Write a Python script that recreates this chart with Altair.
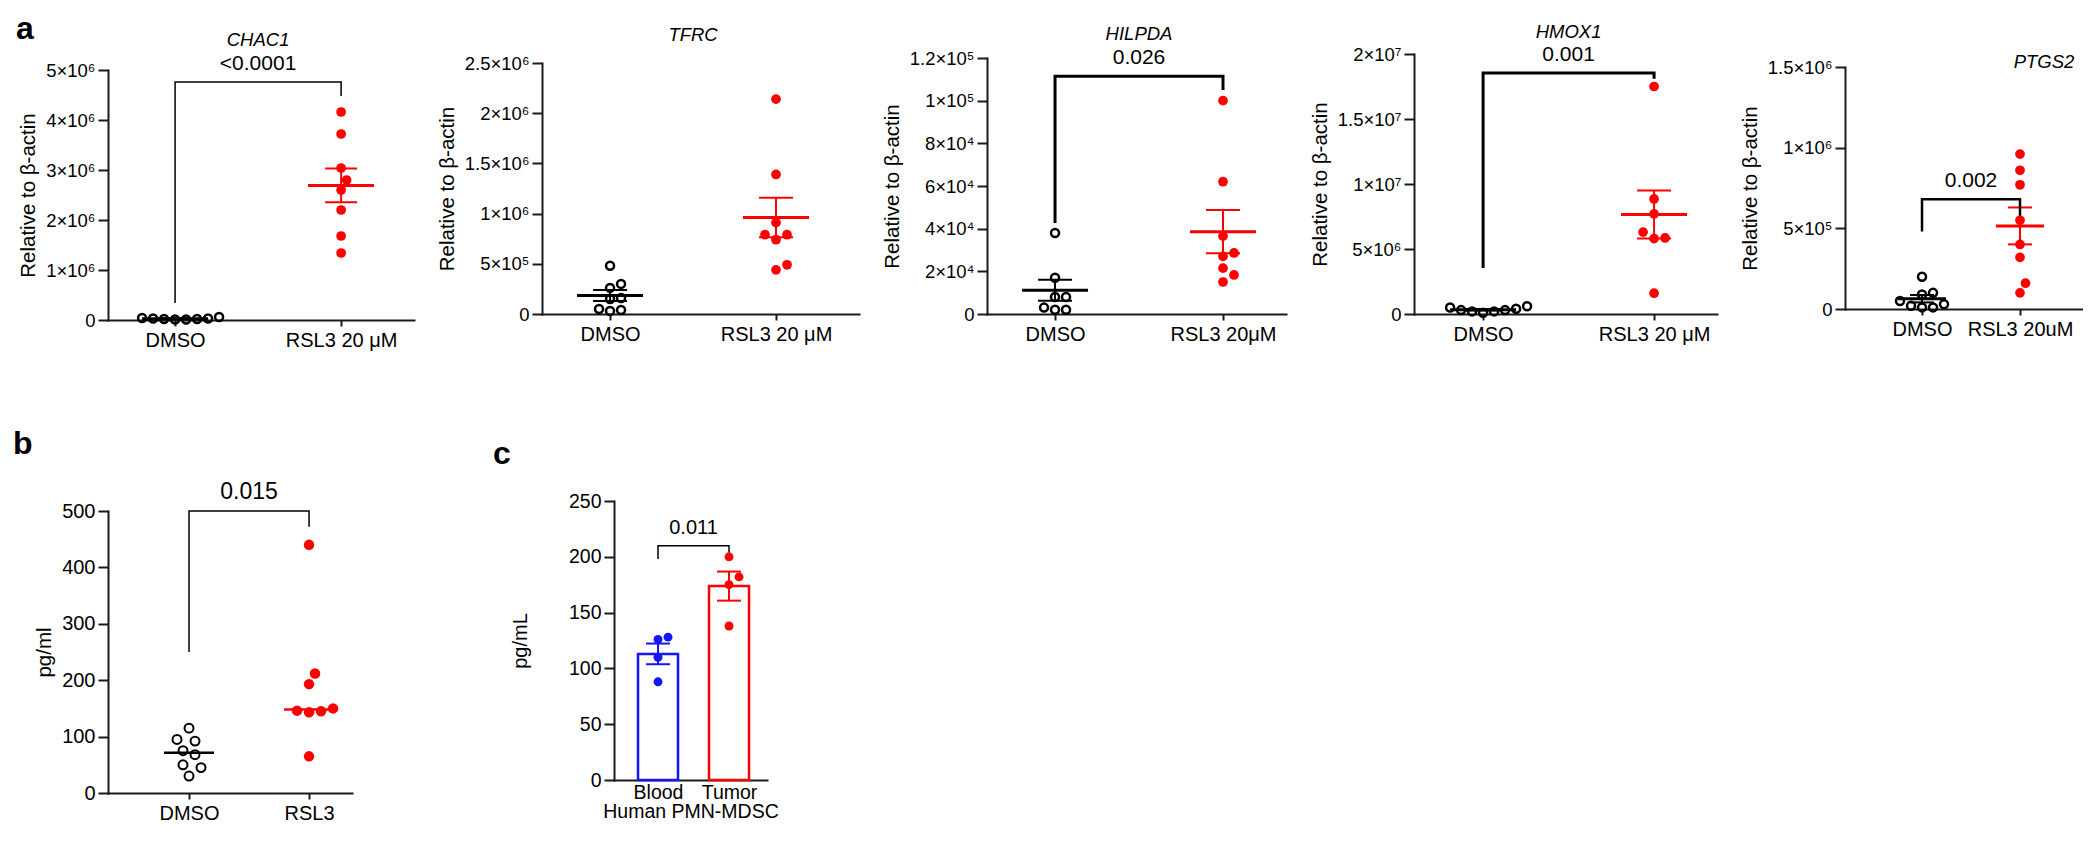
import altair as alt
import pandas as pd

FONT = "Liberation Sans"
RED = "#ff0000"
BLUE = "#1414ff"
BLACK = "#000000"
AXIS = "#1a1a1a"

# ---------------- data ----------------
genes = ["CHAC1", "TFRC", "HILPDA", "HMOX1", "PTGS2"]
ctrl_label = "DMSO"
treat_labels = ["RSL3 20 μM", "RSL3 20 μM", "RSL3 20μM", "RSL3 20 μM", "RSL3 20uM"]
p_values = ["<0.0001", None, "0.026", "0.001", "0.002"]

chac1_dmso = [6e4, 4e4, 3e4, 3e4, 2e4, 2e4, 1e4, 1e4]
chac1_rsl3 = [4.16e6, 3.72e6, 3.04e6, 2.80e6, 2.60e6, 2.20e6, 1.68e6, 1.34e6]
tfrc_dmso = [4.8e5, 3.0e5, 2.6e5, 1.6e5, 1.5e5, 0.5e5, 0.4e5, 0.3e5]
tfrc_rsl3 = [2.14e6, 1.39e6, 0.91e6, 0.79e6, 0.79e6, 0.74e6, 0.49e6, 0.44e6]
hilpda_dmso = [3.8e4, 1.7e4, 0.8e4, 0.8e4, 0.3e4, 0.2e4, 0.2e4]
hilpda_rsl3 = [1.0e5, 6.2e4, 3.65e4, 2.86e4, 2.7e4, 2.15e4, 1.83e4, 1.5e4]
hmox1_dmso = [6e5, 5e5, 4e5, 3e5, 3e5, 2e5, 2e5, 1e5]
hmox1_rsl3 = [1.75e7, 8.85e6, 7.7e6, 6.3e6, 5.85e6, 5.8e6, 1.6e6]
ptgs2_dmso = [2.0e5, 1.0e5, 0.9e5, 0.5e5, 0.3e5, 0.2e5, 0.1e5, 0.1e5]
ptgs2_rsl3 = [9.6e5, 8.6e5, 7.7e5, 5.5e5, 4.0e5, 3.2e5, 1.6e5, 1.0e5]

a_ctrl = [chac1_dmso, tfrc_dmso, hilpda_dmso, hmox1_dmso, ptgs2_dmso]
a_treat = [chac1_rsl3, tfrc_rsl3, hilpda_rsl3, hmox1_rsl3, ptgs2_rsl3]

a_ymax = [5e6, 2.5e6, 1.2e5, 2e7, 1.5e6]
a_ticks = [
    [0, 1e6, 2e6, 3e6, 4e6, 5e6],
    [0, 5e5, 1e6, 1.5e6, 2e6, 2.5e6],
    [0, 2e4, 4e4, 6e4, 8e4, 1e5, 1.2e5],
    [0, 5e6, 1e7, 1.5e7, 2e7],
    [0, 5e5, 1e6, 1.5e6],
]
a_tick_labels = [
    ["0", "1×10⁶", "2×10⁶", "3×10⁶", "4×10⁶", "5×10⁶"],
    ["0", "5×10⁵", "1×10⁶", "1.5×10⁶", "2×10⁶", "2.5×10⁶"],
    ["0", "2×10⁴", "4×10⁴", "6×10⁴", "8×10⁴", "1×10⁵", "1.2×10⁵"],
    ["0", "5×10⁶", "1×10⁷", "1.5×10⁷", "2×10⁷"],
    ["0", "5×10⁵", "1×10⁶", "1.5×10⁶"],
]
# significance brackets: [left leg end, bar height, right leg end]
a_brackets = [
    [3.4e5, 4.76e6, 4.48e6],
    None,
    [4.26e4, 1.115e5, 1.05e5],
    [3.54e6, 1.854e7, 1.81e7],
    [4.8e5, 6.8e5, 5.8e5],
]
a_ytitle = "Relative to β-actin"

# panel b
b_labels = ["DMSO", "RSL3"]
b_dmso = [115, 95, 92, 75, 68, 50, 45, 30]
b_rsl3 = [440, 212, 193, 150, 146, 145, 143, 65]
b_ticks = [0, 100, 200, 300, 400, 500]
b_tick_labels = ["0", "100", "200", "300", "400", "500"]
b_bracket = [250, 500, 472]
b_p = "0.015"

# panel c
c_labels = ["Blood", "Tumor"]
c_blood = [128, 126, 110, 88]
c_tumor = [200, 182, 175, 138]
c_ticks = [0, 50, 100, 150, 200, 250]
c_tick_labels = ["0", "50", "100", "150", "200", "250"]
c_bracket = [198, 210, 204]
c_p = "0.011"


# ---------------- helpers ----------------
def swarm(vals, ppu, d):
    idx = sorted(range(len(vals)), key=lambda i: vals[i])
    placed = []
    offs = [0.0] * len(vals)
    step = d / 2.0
    cands = [0.0]
    for m in range(1, 40):
        cands += [m * step, -m * step]
    for i in idx:
        y = vals[i] * ppu
        for c in cands:
            if all((c - px) ** 2 + (y - py) ** 2 >= d * d * 0.98 for px, py in placed):
                offs[i] = c
                placed.append((c, y))
                break
    return offs


def label_expr(vals, labs):
    s = ""
    for v, l in zip(vals, labs):
        s += f"datum.value == {float(v)!r} ? '{l}' : "
    return s + "''"


def make_panel(groups, xlabels, colors, filled, ymax, ticks, tick_labels, ytitle,
               H, top, W, xdom, kind="mean", mean_hw=33, cap_hw=16, mean_w=3, sem_w=2,
               d=11, open_size=64, fill_size=95, open_w=2.5, bracket=None, pval=None,
               p_fs=20, br_w=2, title=None, title_y=-20, title_dx=0, letter=None,
               letter_xy=(0, 0), tick_fs=18.5, ytitle_fs=19.5, xlabel_fs=19,
               xtitle=None, ytitle_pad=7, bar_hw=20, xlabel_pad=4, xtick=6):
    ppu_y = (H - top) / ymax
    ppu_x = W / (xdom[1] - xdom[0])
    rows = []
    for g, vals in enumerate(groups, start=1):
        offs = swarm(vals, ppu_y, d)
        for v, o in zip(vals, offs):
            rows.append({"g": g, "v": v, "xp": g + o / ppu_x})
    df = pd.DataFrame(rows)
    xs = alt.Scale(domain=list(xdom), nice=False, zero=False)
    ys = alt.Scale(domain=[0, ymax], range=[H, top], nice=False, zero=False)

    xaxis = alt.Axis(values=[1, 2],
                     labelExpr=f"datum.value == 1 ? '{xlabels[0]}' : datum.value == 2 ? '{xlabels[1]}' : ''",
                     title=xtitle, tickSize=xtick, ticks=xtick > 0, labelPadding=xlabel_pad,
                     labelFontSize=xlabel_fs, labelFlush=False, labelOverlap=False,
                     titleFontSize=xlabel_fs, titlePadding=1)
    yaxis = alt.Axis(values=ticks, labelExpr=label_expr(ticks, tick_labels), title=ytitle,
                     tickSize=10, labelPadding=3, titlePadding=ytitle_pad,
                     labelFontSize=tick_fs, titleFontSize=ytitle_fs, labelOverlap=False,
                     labelFlush=False)

    # every layer carries the same axis definition so the shared axes merge cleanly
    def X(f):
        return alt.X(f"{f}:Q", scale=xs, axis=xaxis)

    def Y(f):
        return alt.Y(f"{f}:Q", scale=ys, axis=yaxis)

    layers = []
    base = alt.Chart(df)

    if kind == "bar":
        for g in (1, 2):
            agg = base.transform_filter(f"datum.g == {g}").transform_aggregate(
                m="mean(v)", groupby=["g"]
            ).transform_calculate(bl=f"datum.g - {bar_hw / ppu_x}", br=f"datum.g + {bar_hw / ppu_x}")
            layers.append(agg.mark_bar(fill="white", stroke=colors[g - 1], strokeWidth=2.5).encode(
                x=X("bl"), x2="br", y=Y("m"), y2=alt.datum(0)))

    for g in (1, 2):
        sub = base.transform_filter(f"datum.g == {g}")
        if filled[g - 1]:
            mk = sub.mark_circle(size=fill_size, color=colors[g - 1], opacity=1)
        else:
            mk = sub.mark_point(shape="circle", filled=False, size=open_size,
                                strokeWidth=open_w, color=colors[g - 1], opacity=1)
        layers.append(mk.encode(x=X("xp"), y=Y("v")))

    for g in (1, 2):
        col = colors[g - 1]
        sub = base.transform_filter(f"datum.g == {g}")
        if kind == "median":
            agg = sub.transform_aggregate(m="median(v)", groupby=["g"]).transform_calculate(
                ml=f"datum.g - {mean_hw / ppu_x}", mr=f"datum.g + {mean_hw / ppu_x}")
            layers.append(agg.mark_rule(color=col, strokeWidth=mean_w).encode(
                x=X("ml"), x2="mr", y=Y("m")))
            continue
        agg = sub.transform_aggregate(m="mean(v)", se="stderr(v)", groupby=["g"]).transform_calculate(
            lo="datum.m - datum.se", hi="datum.m + datum.se",
            ml=f"datum.g - {mean_hw / ppu_x}", mr=f"datum.g + {mean_hw / ppu_x}",
            cl=f"datum.g - {cap_hw / ppu_x}", cr=f"datum.g + {cap_hw / ppu_x}")
        if kind == "mean":
            layers.append(agg.mark_rule(color=col, strokeWidth=mean_w).encode(
                x=X("ml"), x2="mr", y=Y("m")))
        layers.append(agg.mark_rule(color=col, strokeWidth=sem_w).encode(
            x=X("g"), y=Y("lo"), y2="hi"))
        layers.append(agg.mark_rule(color=col, strokeWidth=sem_w).encode(
            x=X("cl"), x2="cr", y=Y("hi")))
        layers.append(agg.mark_rule(color=col, strokeWidth=sem_w).encode(
            x=X("cl"), x2="cr", y=Y("lo")))

    if bracket is not None:
        bdf = pd.DataFrame({"bx": [1, 1, 2, 2],
                            "by": [bracket[0], bracket[1], bracket[1], bracket[2]],
                            "o": [0, 1, 2, 3]})
        layers.append(alt.Chart(bdf).mark_line(color=BLACK, strokeWidth=br_w,
                                               strokeJoin="miter", strokeCap="butt").encode(
            x=X("bx"), y=Y("by"), order="o:Q"))
        if pval:
            pdf = pd.DataFrame({"bx": [1.5], "by": [bracket[1]], "t": [pval]})
            layers.append(alt.Chart(pdf).mark_text(color=BLACK, fontSize=p_fs, dy=-12,
                                                   baseline="alphabetic", align="center").encode(
                x=X("bx"), y=Y("by"), text="t:N"))

    if title:
        tdf = pd.DataFrame({"bx": [1.5], "t": [title]})
        layers.append(alt.Chart(tdf).mark_text(color=BLACK, fontSize=18.5, fontStyle="italic",
                                               baseline="alphabetic", align="center",
                                               dx=title_dx).encode(
            x=X("bx"), y=alt.value(title_y), text="t:N"))

    if letter:
        ldf = pd.DataFrame({"t": [letter]})
        layers.append(alt.Chart(ldf).mark_text(color=BLACK, fontSize=32, fontWeight="bold",
                                               baseline="top", align="left").encode(
            x=alt.value(letter_xy[0]), y=alt.value(letter_xy[1]), text="t:N"))

    return alt.layer(*layers).properties(width=W, height=H)


# ---------------- row a ----------------
a_group_h = [266, 260, 260, 260, 255]
a_range_top = [16, 9, 4, 0, 13]
a_width = [306, 317, 299, 303, 238]
a_xdom = [(0.596, 2.439), (0.590, 2.500), (0.595, 2.375), (0.596, 2.368), (0.214, 2.643)]
a_title_y = [-8, -13, -14, -16, 14]
a_title_dx = [0, 0, 0, 0, 73]
a_mean_hw = [33, 33, 33, 33, 24]
a_cap_hw = [16, 17, 17, 17, 12]
a_br_w = [1.5, 2, 3, 3, 2.5]

cols = []
for i in range(5):
    cols.append(make_panel(
        [a_ctrl[i], a_treat[i]], [ctrl_label, treat_labels[i]], [BLACK, RED], [False, True],
        a_ymax[i], a_ticks[i], a_tick_labels[i], a_ytitle,
        a_group_h[i], a_range_top[i], a_width[i], a_xdom[i], kind="mean",
        mean_hw=a_mean_hw[i], cap_hw=a_cap_hw[i], p_fs=21,
        bracket=a_brackets[i], pval=p_values[i], br_w=a_br_w[i],
        title=genes[i], title_y=a_title_y[i], title_dx=a_title_dx[i],
        letter="a" if i == 0 else None, letter_xy=(-92, -40),
        ytitle_fs=20.5, xlabel_fs=20,
    ))

row_a = alt.hconcat(*cols, spacing=128, bounds="flush")

# ---------------- row b / c ----------------
panel_b = make_panel(
    [b_dmso, b_rsl3], b_labels, [BLACK, RED], [False, True],
    500, b_ticks, b_tick_labels, "pg/ml", 292, 10, 244, (0.325, 2.358), kind="median",
    mean_hw=25, mean_w=2.5, d=12, open_size=80, fill_size=110, open_w=2,
    bracket=b_bracket, pval=b_p, p_fs=23, br_w=1.5,
    letter="b", letter_xy=(-95, -72), tick_fs=20, ytitle_fs=20.5, xlabel_fs=20,
)
panel_c = make_panel(
    [c_blood, c_tumor], c_labels, [BLUE, RED], [True, True],
    250, c_ticks, c_tick_labels, "pg/mL", 279, 0, 153, (0.380, 2.535), kind="bar",
    cap_hw=12, sem_w=2, d=10, fill_size=80,
    bracket=c_bracket, pval=c_p, p_fs=20, br_w=1.5,
    letter="c", letter_xy=(-121, -62), tick_fs=19.5, ytitle_fs=20, xlabel_fs=19.5,
    xtitle="Human PMN-MDSC", ytitle_pad=38, bar_hw=20, xlabel_pad=3, xtick=0,
)
row_bc = alt.hconcat(panel_b, panel_c, spacing=262, bounds="flush")

chart = alt.vconcat(row_a, row_bc, spacing=78).properties(
    padding={"left": 5, "top": 5, "right": 0, "bottom": 0}
).configure(font=FONT, background="white").configure_view(stroke=None).configure_axis(
    domainColor=AXIS, domainWidth=2, tickColor=AXIS, tickWidth=2, grid=False,
    labelColor=BLACK, titleColor=BLACK, labelFont=FONT, titleFont=FONT,
    titleFontWeight="normal", domainCap="square"
)

chart.save("out.html", embed_options={"renderer": "svg", "actions": False})
